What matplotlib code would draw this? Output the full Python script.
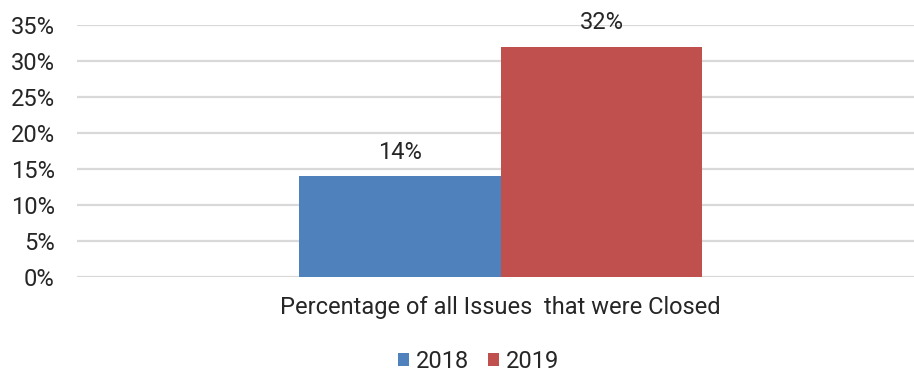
import matplotlib.pyplot as plt
from matplotlib.ticker import PercentFormatter

plt.rcParams['font.family'] = ['Roboto', 'DejaVu Sans']

category = 'Percentage of all Issues  that were Closed'
years = ['2018', '2019']
values = [14, 32]
colors = ['#4F81BD', '#C0504D']

fig = plt.figure(figsize=(9.14, 3.72), dpi=100)
ax = fig.add_axes([77 / 914, 95 / 372, 1 - 77 / 914, 252 / 372])

w = 0.2413
offsets = [-w / 2, w / 2]
for yr, v, c, off in zip(years, values, colors, offsets):
    ax.bar(off, v, width=w, color=c, label=yr, zorder=3)
    ax.annotate(f'{v}%', (off, v), xytext=(0, 9), textcoords='offset points',
                ha='center', va='bottom', fontsize=17, color='#262626')

ax.set_xlim(-0.506, 0.494)
ax.set_ylim(0, 35)
ax.set_yticks(range(0, 36, 5))
ax.yaxis.set_major_formatter(PercentFormatter(decimals=0))
ax.yaxis.grid(True, color='#D9D9D9', linewidth=1.6, zorder=0)
ax.set_xticks([0])
ax.set_xticklabels([category])
ax.tick_params(axis='both', length=0, labelsize=17, colors='#262626')
ax.tick_params(axis='y', pad=16)
ax.tick_params(axis='x', pad=14)
for s in ax.spines.values():
    s.set_visible(False)

leg = fig.legend(loc='lower center', bbox_to_anchor=(0.5235, -0.06), ncol=2,
                 frameon=False, fontsize=17, handlelength=0.47, handleheight=0.47,
                 handletextpad=0.3, columnspacing=0.8)
for t in leg.get_texts():
    t.set_color('#262626')

fig.savefig('out.png', dpi=100)
